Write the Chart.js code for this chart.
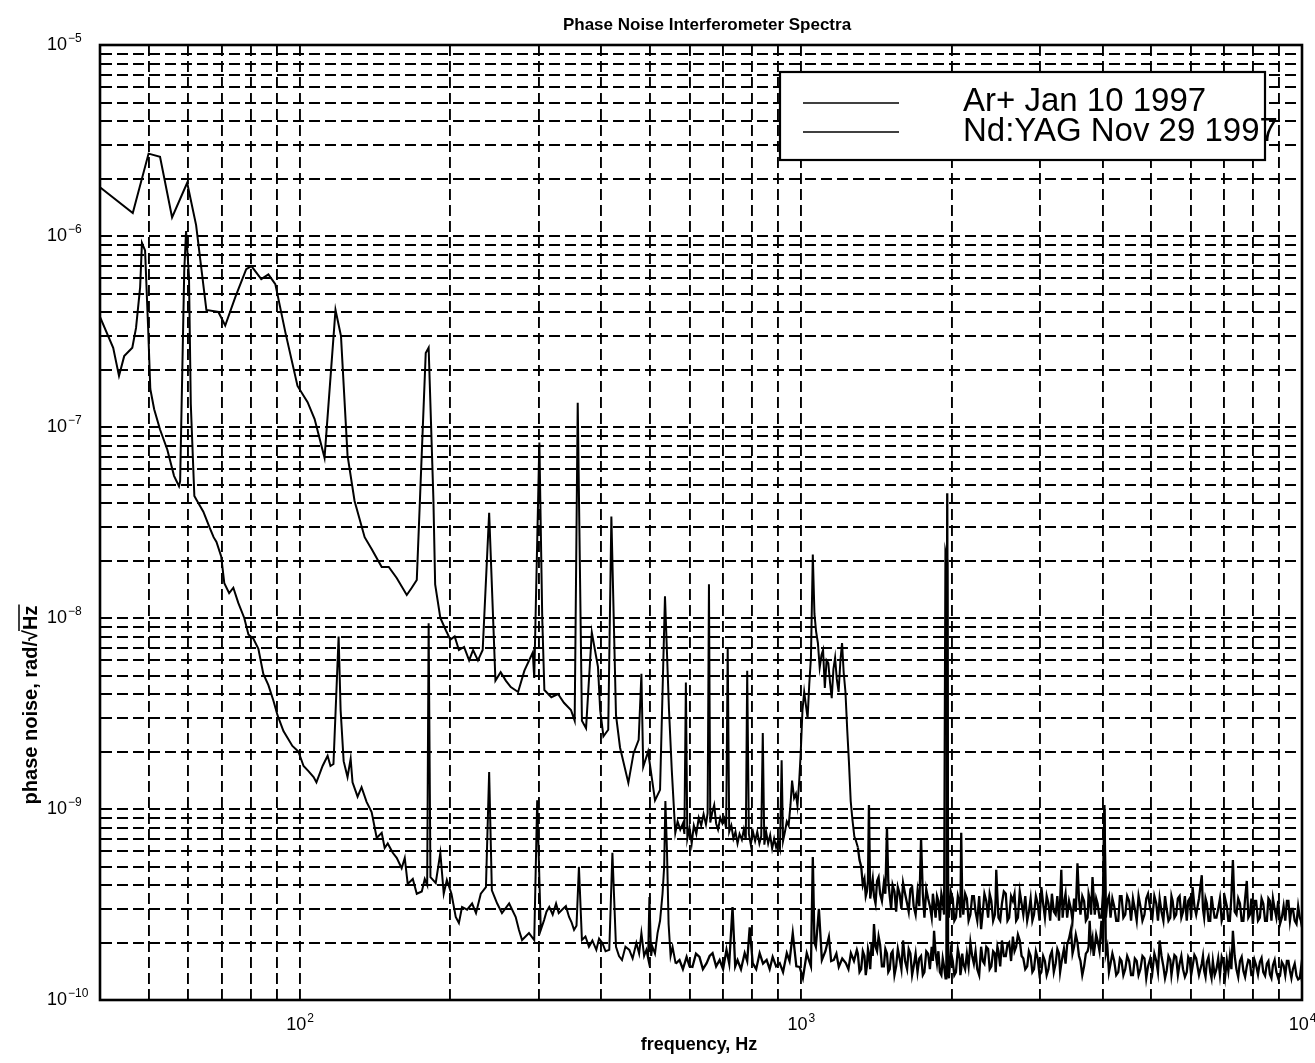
<!DOCTYPE html>
<html>
<head>
<meta charset="utf-8">
<title>Phase Noise Interferometer Spectra</title>
<script src="https://cdn.jsdelivr.net/npm/chart.js@4.4.1/dist/chart.umd.min.js"></script>
<style>
  html, body { margin: 0; padding: 0; background: #fff; }
  canvas { display: block; }
</style>
</head>
<body>
<canvas id="spectra" width="1315" height="1063"></canvas>
<script>
// grid / tick positions
var xGridHz = [40, 50, 60, 70, 80, 90, 100, 200, 300, 400, 500, 600, 700, 800, 900,
  1000, 2000, 3000, 4000, 5000, 6000, 7000, 8000, 9000, 10000];
var yGridVals = [1e-10, 2e-10, 3e-10, 4e-10, 5e-10, 6e-10, 7e-10, 8e-10, 9e-10,
  1e-9, 2e-9, 3e-9, 4e-9, 5e-9, 6e-9, 7e-9, 8e-9, 9e-9,
  1e-8, 2e-8, 3e-8, 4e-8, 5e-8, 6e-8, 7e-8, 8e-8, 9e-8,
  1e-7, 2e-7, 3e-7, 4e-7, 5e-7, 6e-7, 7e-7, 8e-7, 9e-7,
  1e-6, 2e-6, 3e-6, 4e-6, 5e-6, 6e-6, 7e-6, 8e-6, 9e-6, 1e-5];
var xLabelVals = [100, 1000, 10000];
var xLabelExps = ['2', '3', '4'];
var yLabelVals = [1e-10, 1e-9, 1e-8, 1e-7, 1e-6, 1e-5];
var yLabelExps = ['\u221210', '\u22129', '\u22128', '\u22127', '\u22126', '\u22125'];
var legendLabels = ['Ar+ Jan 10 1997', 'Nd:YAG Nov 29 1997'];

// Ar+ spectrum, 40 Hz .. 1.3 kHz  [Hz, rad/rtHz]
var arLowPts = [
  [40, 1.8e-6], [46.5, 1.32e-6], [50, 2.7e-6], [52.7, 2.6e-6], [55.7, 1.25e-6], [59.7, 1.9e-6],
  [62.2, 1.14e-6], [65.2, 4.1e-7], [68.9, 4.0e-7], [71.1, 3.4e-7], [74.5, 4.8e-7], [78.3, 6.7e-7],
  [80.2, 6.95e-7], [83.9, 5.95e-7], [86.7, 6.3e-7], [89.5, 5.6e-7], [93.8, 3.1e-7], [99.1, 1.64e-7],
  [103.8, 1.35e-7], [107.2, 1.1e-7], [112.2, 6.9e-8], [118, 4.1e-7], [121, 3.0e-7], [124.7, 7.1e-8],
  [128.8, 4.1e-8], [134.9, 2.65e-8], [139.3, 2.3e-8], [145.9, 1.85e-8], [150.7, 1.85e-8], [156.3, 1.62e-8],
  [163.7, 1.32e-8], [167.5, 1.44e-8], [171.4, 1.58e-8], [178.6, 2.44e-7], [181, 2.6e-7], [185, 4.2e-8],
  [186.5, 1.5e-8], [191, 1.0e-8], [196, 8.6e-9], [200, 7.7e-9], [204, 8.0e-9], [208, 6.8e-9],
  [213, 7.05e-9], [218, 6.0e-9], [222, 6.8e-9], [227, 6.0e-9], [232, 6.8e-9], [239, 3.55e-8],
  [246, 4.7e-9], [252, 5.2e-9], [258, 4.7e-9], [264, 4.35e-9], [273, 4.1e-9], [281, 5.3e-9],
  [292, 6.6e-9], [294, 4.85e-9], [301, 8.3e-8], [305, 1.0e-8], [308, 4.2e-9], [318, 3.85e-9],
  [328, 4.0e-9], [337, 3.6e-9], [348, 3.3e-9], [354, 2.9e-9], [359, 1.34e-7], [366, 2.9e-9],
  [373, 2.65e-9], [383, 8.4e-9], [394, 5.55e-9], [398, 3.3e-9], [404, 2.4e-9], [413, 2.6e-9],
  [419, 3.4e-8], [428, 3.1e-9], [436, 2.1e-9], [453, 1.37e-9], [464, 1.96e-9], [475, 2.3e-9],
  [481, 5.1e-9], [485, 1.66e-9], [496, 2.0e-9], [512, 1.11e-9], [524, 1.26e-9], [536, 1.3e-8],
  [546, 3.3e-9], [553, 1.6e-9], [562, 7.5e-10], [568, 8.6e-10], [575, 7.8e-10], [582, 8.4e-10],
  [586, 7.4e-10], [590, 4.6e-9], [594, 7.0e-10], [600, 8.0e-10], [606, 6.6e-10], [612, 8.2e-10],
  [619, 7.4e-10], [626, 9.0e-10], [633, 8.2e-10], [640, 9.4e-10], [647, 8.3e-10], [652, 9.5e-10],
  [656, 1.5e-8], [660, 8.5e-10], [666, 9.6e-10], [672, 1.05e-9], [678, 8.4e-10], [684, 7.8e-10],
  [691, 9.0e-10], [698, 8.4e-10], [704, 8.9e-10], [710, 7.9e-10], [715, 7.0e-9], [720, 7.6e-10],
  [727, 8.2e-10], [734, 7.0e-10], [741, 7.6e-10], [748, 6.6e-10], [755, 7.4e-10], [763, 6.9e-10],
  [770, 7.8e-10], [777, 6.9e-10], [782, 5.3e-9], [788, 7.4e-10], [795, 6.5e-10], [803, 7.6e-10],
  [811, 6.8e-10], [819, 7.6e-10], [827, 6.6e-10], [834, 7.2e-10], [840, 2.5e-9], [846, 6.5e-10],
  [853, 7.6e-10], [861, 6.6e-10], [869, 7.3e-10], [877, 6.2e-10], [885, 7.0e-10], [893, 6.3e-10],
  [901, 6.8e-10], [909, 6.2e-10], [916, 1.8e-9], [922, 6.8e-10], [930, 7.6e-10], [938, 8.6e-10],
  [946, 8.2e-10], [954, 1.05e-9], [961, 1.41e-9], [970, 1.14e-9], [978, 1.2e-9], [985, 1.04e-9],
  [993, 1.4e-9], [1000, 1.98e-9], [1008, 3.3e-9], [1016, 4.1e-9], [1024, 3.5e-9], [1032, 3.0e-9],
  [1040, 4.5e-9], [1048, 6.2e-9], [1057, 2.15e-8], [1065, 1.05e-8], [1073, 8.5e-9], [1082, 7.4e-9],
  [1091, 5.5e-9], [1100, 6.4e-9], [1108, 6.8e-9], [1117, 4.3e-9], [1126, 6.0e-9], [1135, 5.8e-9],
  [1144, 4.6e-9], [1153, 3.8e-9], [1162, 5.4e-9], [1171, 6.2e-9], [1180, 4.8e-9], [1190, 4.1e-9],
  [1200, 6.0e-9], [1209, 7.4e-9], [1218, 5.2e-9], [1228, 4.1e-9], [1238, 2.6e-9], [1248, 1.75e-9],
  [1258, 1.1e-9], [1268, 8.8e-10], [1279, 7.2e-10], [1289, 6.8e-10]
];

// Nd:YAG spectrum, 40 Hz .. 1.3 kHz
var ndLowPts = [
  [40, 3.77e-7], [42.5, 2.6e-7], [43.65, 1.85e-7], [44.7, 2.35e-7], [46.4, 2.6e-7], [47.2, 3.3e-7],
  [48.1, 5.4e-7], [48.5, 9.2e-7], [49.2, 8.4e-7], [49.9, 3.3e-7], [50.4, 1.58e-7], [51.3, 1.24e-7],
  [52.7, 9.7e-8], [54.5, 7.6e-8], [56.2, 5.55e-8], [57.5, 4.9e-8], [57.8, 5.2e-8], [58.9, 6.56e-7],
  [59.4, 1.06e-6], [60.2, 6.1e-7], [60.7, 1.32e-7], [61.7, 4.35e-8], [62.5, 4.1e-8], [64.3, 3.6e-8],
  [66.1, 3.0e-8], [67.4, 2.65e-8], [68.3, 2.5e-8], [69.8, 2.1e-8], [70.8, 1.52e-8], [72.4, 1.35e-8],
  [73.8, 1.44e-8], [75.5, 1.2e-8], [77.6, 1.0e-8], [79.1, 8.2e-9], [80.9, 7.8e-9], [82.8, 6.9e-9],
  [84.7, 5.1e-9], [86.7, 4.45e-9], [88.7, 3.7e-9], [90.4, 3.1e-9], [92.9, 2.56e-9], [96.8, 2.14e-9],
  [99.5, 2.0e-9], [101.9, 1.68e-9], [104.2, 1.58e-9], [106.7, 1.47e-9], [108.1, 1.38e-9], [111.2, 1.68e-9],
  [113.8, 1.9e-9], [115.3, 1.68e-9], [116.9, 1.72e-9], [119.7, 8.0e-9], [120.8, 3.3e-9], [122.5, 1.78e-9],
  [124.7, 1.47e-9], [126.5, 1.83e-9], [127.6, 1.38e-9], [130.6, 1.16e-9], [133, 1.3e-9], [136.1, 1.09e-9],
  [139.3, 9.65e-10], [142.6, 7.05e-10], [145.9, 7.5e-10], [147.9, 6.25e-10], [150, 6.6e-10], [153.5, 5.9e-10],
  [156.3, 5.55e-10], [159.9, 4.9e-10], [162.2, 5.55e-10], [164.4, 4.05e-10], [168.3, 4.3e-10], [171.4, 3.6e-10],
  [175.4, 3.7e-10], [177.8, 4.3e-10], [179.8, 4.0e-10], [181, 9.4e-9], [182.5, 4.4e-10], [187, 4.1e-10],
  [191, 5.9e-10], [194, 3.6e-10], [196.8, 4.25e-10], [201, 3.6e-10], [205, 2.72e-10], [208, 2.53e-10],
  [211, 3.07e-10], [216, 2.97e-10], [221, 3.2e-10], [225, 2.85e-10], [230, 3.6e-10], [235.5, 3.9e-10],
  [239, 1.56e-9], [242, 3.75e-10], [248, 3.2e-10], [253.5, 2.85e-10], [262, 3.2e-10], [270, 2.72e-10],
  [274, 2.33e-10], [278, 2.06e-10], [287, 2.24e-10], [294, 2.06e-10], [298, 1.11e-9], [303, 2.33e-10],
  [307.6, 2.62e-10], [311, 2.9e-10], [315, 3.07e-10], [320, 2.8e-10], [325, 3.2e-10], [329, 2.85e-10],
  [334, 2.97e-10], [340, 3.1e-10], [345, 2.72e-10], [349, 2.55e-10], [353, 2.33e-10], [357, 2.45e-10],
  [361, 4.98e-10], [366, 2.06e-10], [372, 2.15e-10], [378, 1.9e-10], [384, 2.05e-10], [391, 1.83e-10],
  [396, 2.1e-10], [402, 1.99e-10], [408, 1.8e-10], [415, 1.83e-10], [421, 5.9e-10], [428, 1.9e-10],
  [434, 1.7e-10], [440, 1.62e-10], [447, 1.9e-10], [455, 1.83e-10], [462, 1.65e-10], [470, 1.99e-10],
  [476, 1.75e-10], [481, 2.24e-10], [487, 1.7e-10], [492, 1.83e-10], [496, 1.65e-10], [499, 3.46e-10],
  [503, 1.7e-10], [506, 1.9e-10], [512, 1.75e-10], [518, 2.24e-10], [524, 2.6e-10], [530, 3.6e-10],
  [534, 5.0e-10], [537, 1.1e-9], [541, 6.0e-10], [545, 2.5e-10], [550, 1.7e-10], [555, 1.9e-10],
  [563, 1.55e-10], [573, 1.62e-10], [582, 1.45e-10], [592, 1.68e-10], [600, 1.5e-10], [608, 1.49e-10],
  [618, 1.75e-10], [628, 1.68e-10], [638, 1.45e-10], [649, 1.56e-10], [658, 1.7e-10], [667, 1.76e-10],
  [678, 1.5e-10], [689, 1.62e-10], [700, 1.45e-10], [711, 1.83e-10], [720, 1.55e-10], [731, 3.07e-10],
  [740, 1.5e-10], [748, 1.62e-10], [760, 1.45e-10], [773, 1.76e-10], [782, 1.6e-10], [791, 2.4e-10],
  [802, 1.56e-10], [815, 1.45e-10], [828, 1.76e-10], [841, 1.55e-10], [855, 1.62e-10], [867, 1.45e-10],
  [879, 1.68e-10], [893, 1.5e-10], [908, 1.56e-10], [922, 1.4e-10], [938, 1.76e-10], [950, 1.6e-10],
  [964, 2.24e-10], [980, 1.5e-10], [995, 1.49e-10], [1010, 1.3e-10], [1028, 1.76e-10], [1038, 1.62e-10],
  [1048, 1.5e-10], [1057, 5.6e-10], [1065, 2.0e-10], [1072, 1.9e-10], [1087, 3.0e-10], [1102, 1.62e-10],
  [1120, 1.8e-10], [1138, 2.14e-10], [1150, 1.6e-10], [1164, 1.62e-10], [1178, 1.75e-10], [1191, 1.49e-10],
  [1210, 1.65e-10], [1230, 1.56e-10], [1245, 1.45e-10], [1259, 1.76e-10], [1277, 1.6e-10], [1294, 1.83e-10]
];

// common frequency list for the noise floor, 1.3 .. 10 kHz
var hfHz = [1300, 1320, 1340, 1355, 1368, 1385, 1400, 1420, 1440, 1465,
  1486, 1505, 1525, 1550, 1575, 1600, 1630, 1655, 1680, 1710,
  1738, 1765, 1795, 1825, 1845, 1870, 1895, 1920, 1945, 1960,
  1975, 2010, 2040, 2075, 2090, 2110, 2145, 2180, 2215, 2250,
  2290, 2325, 2365, 2400, 2440, 2455, 2480, 2520, 2565, 2605,
  2650, 2690, 2735, 2780, 2830, 2875, 2920, 2970, 3020, 3070,
  3120, 3170, 3225, 3275, 3310, 3350, 3400, 3460, 3510, 3565,
  3615, 3675, 3735, 3770, 3820, 3860, 3910, 3980, 4035, 4090,
  4150, 4220, 4300, 4365, 4440, 4520, 4600, 4680, 4760, 4850,
  4930, 5030, 5120, 5200, 5290, 5370, 5460, 5520, 5610, 5700,
  5790, 5890, 5970, 6050, 6150, 6310, 6380, 6460, 6560, 6640,
  6750, 6860, 6970, 7080, 7180, 7280, 7400, 7520, 7640, 7760,
  7870, 7980, 8100, 8240, 8370, 8510, 8630, 8750, 8890, 9040,
  9190, 9330, 9460, 9590, 9750, 9900, 10000];

var arHf = [6.3e-10, 5.0e-10, 4.3e-10, 3.7e-10, 1.05e-9, 3.9e-10, 3.5e-10, 4.2e-10, 3.6e-10, 4.1e-10,
  8.0e-10, 3.5e-10, 4.0e-10, 2.9e-10, 3.6e-10, 4.1e-10, 3.2e-10, 3.8e-10, 3.1e-10, 3.7e-10,
  7.0e-10, 2.7e-10, 3.4e-10, 2.7e-10, 3.2e-10, 3.5e-10, 2.6e-10, 3.3e-10, 2.2e-8, 2.0e-8,
  2.7e-10, 3.4e-10, 2.7e-10, 3.2e-10, 7.5e-10, 2.8e-10, 3.4e-10, 2.8e-10, 3.5e-10, 2.6e-10,
  2.35e-10, 3.6e-10, 2.7e-10, 3.3e-10, 2.8e-10, 4.8e-10, 2.7e-10, 3.2e-10, 3.6e-10, 2.7e-10,
  3.3e-10, 2.6e-10, 3.7e-10, 2.8e-10, 2.6e-10, 3.4e-10, 2.8e-10, 3.2e-10, 3.9e-10, 2.7e-10,
  3.2e-10, 3.6e-10, 2.8e-10, 2.6e-10, 4.8e-10, 3.2e-10, 2.7e-10, 3.0e-10, 3.4e-10, 5.2e-10,
  2.8e-10, 3.3e-10, 2.7e-10, 3.4e-10, 4.4e-10, 2.8e-10, 3.2e-10, 2.7e-10, 1.05e-9, 3.3e-10,
  2.7e-10, 3.1e-10, 2.6e-10, 3.5e-10, 2.8e-10, 3.3e-10, 3.4e-10, 2.6e-10, 3.1e-10, 2.8e-10,
  3.6e-10, 2.7e-10, 3.2e-10, 3.4e-10, 2.6e-10, 3.0e-10, 2.7e-10, 3.3e-10, 2.8e-10, 3.5e-10,
  2.9e-10, 2.6e-10, 3.4e-10, 3.9e-10, 2.8e-10, 4.5e-10, 2.7e-10, 3.2e-10, 2.6e-10, 3.1e-10,
  2.7e-10, 3.4e-10, 2.8e-10, 3.1e-10, 2.6e-10, 5.4e-10, 2.8e-10, 3.2e-10, 2.6e-10, 4.2e-10,
  2.8e-10, 2.5e-10, 3.3e-10, 2.7e-10, 3.2e-10, 2.6e-10, 3.3e-10, 3.4e-10, 2.7e-10, 2.5e-10,
  3.1e-10, 3.3e-10, 2.6e-10, 3.0e-10, 2.5e-10, 2.7e-10, 2.4e-10];

var ndHf = [1.75e-10, 1.45e-10, 1.7e-10, 1.5e-10, 1.75e-10, 2.0e-10, 2.5e-10, 1.8e-10, 1.95e-10, 1.5e-10,
  1.75e-10, 1.45e-10, 1.8e-10, 1.5e-10, 1.65e-10, 2.05e-10, 1.45e-10, 1.75e-10, 1.5e-10, 1.4e-10,
  1.7e-10, 1.4e-10, 1.75e-10, 1.9e-10, 2.3e-10, 1.55e-10, 1.4e-10, 1.65e-10, 1.3e-10, 4.5e-8,
  1.3e-10, 1.6e-10, 1.4e-10, 1.65e-10, 1.45e-10, 1.55e-10, 1.75e-10, 2.0e-10, 1.55e-10, 1.45e-10,
  1.9e-10, 1.55e-10, 1.85e-10, 1.5e-10, 1.75e-10, 1.6e-10, 1.8e-10, 2.05e-10, 1.7e-10, 2.0e-10,
  2.15e-10, 1.9e-10, 2.05e-10, 1.65e-10, 1.5e-10, 1.7e-10, 1.45e-10, 1.65e-10, 1.4e-10, 1.6e-10,
  1.45e-10, 1.8e-10, 1.55e-10, 1.75e-10, 1.55e-10, 1.85e-10, 1.95e-10, 2.35e-10, 1.9e-10, 2.0e-10,
  1.6e-10, 1.5e-10, 1.8e-10, 2.6e-10, 2.1e-10, 1.9e-10, 2.05e-10, 2.6e-10, 1.0e-9, 1.9e-10,
  1.55e-10, 1.6e-10, 1.4e-10, 1.6e-10, 1.45e-10, 1.6e-10, 1.35e-10, 1.6e-10, 1.45e-10, 1.65e-10,
  1.5e-10, 1.4e-10, 1.6e-10, 2.05e-10, 1.5e-10, 1.42e-10, 1.62e-10, 1.5e-10, 1.68e-10, 1.55e-10,
  1.45e-10, 1.4e-10, 1.62e-10, 1.5e-10, 1.65e-10, 1.55e-10, 1.42e-10, 1.58e-10, 1.4e-10, 1.6e-10,
  1.45e-10, 1.35e-10, 1.58e-10, 1.62e-10, 1.7e-10, 2.3e-10, 1.45e-10, 1.6e-10, 1.42e-10, 1.5e-10,
  1.6e-10, 1.35e-10, 1.52e-10, 1.58e-10, 1.4e-10, 1.55e-10, 1.36e-10, 1.52e-10, 1.4e-10, 1.34e-10,
  1.52e-10, 1.6e-10, 1.42e-10, 1.45e-10, 1.34e-10, 1.3e-10, 1.25e-10];

// in-between noise samples, 1.3 .. 10 kHz
var hfMidHz = [1310, 1330, 1348, 1362, 1376, 1392, 1410, 1430, 1452, 1475,
  1495, 1515, 1538, 1562, 1588, 1615, 1642, 1668, 1695, 1724,
  1752, 1780, 1810, 1835, 1858, 1882, 1908, 1932, 1952, 1968,
  1992, 2025, 2058, 2082, 2100, 2128, 2162, 2198, 2232, 2270,
  2308, 2345, 2382, 2420, 2448, 2468, 2500, 2542, 2585, 2628,
  2670, 2712, 2758, 2805, 2852, 2898, 2945, 2995, 3045, 3095,
  3145, 3198, 3250, 3292, 3330, 3375, 3430, 3485, 3538, 3590,
  3645, 3705, 3752, 3795, 3840, 3885, 3945, 4008, 4062, 4120,
  4185, 4260, 4332, 4402, 4480, 4560, 4640, 4720, 4805, 4890,
  4980, 5075, 5160, 5245, 5330, 5415, 5490, 5565, 5655, 5745,
  5840, 5930, 6010, 6100, 6230, 6345, 6420, 6510, 6600, 6695,
  6805, 6915, 7025, 7130, 7230, 7340, 7460, 7580, 7700, 7815,
  7925, 8040, 8170, 8305, 8440, 8570, 8690, 8820, 8965, 9115,
  9260, 9395, 9525, 9670, 9825, 9950];

var arMid = [5.4e-10, 4.0e-10, 3.5e-10, 4.2e-10, 3.4e-10, 4.3e-10, 3.2e-10, 4.4e-10, 3.3e-10, 3.6e-10,
  4.2e-10, 3.0e-10, 3.7e-10, 3.9e-10, 3.0e-10, 3.6e-10, 2.9e-10, 3.9e-10, 2.8e-10, 3.1e-10,
  3.6e-10, 3.8e-10, 3.1e-10, 3.6e-10, 2.7e-10, 3.3e-10, 3.6e-10, 2.8e-10, 2.1e-8, 3.3e-10,
  3.7e-10, 2.6e-10, 3.5e-10, 2.7e-10, 3.3e-10, 3.6e-10, 2.6e-10, 3.5e-10, 2.9e-10, 3.5e-10,
  2.9e-10, 3.3e-10, 3.6e-10, 2.6e-10, 3.4e-10, 3.5e-10, 2.6e-10, 3.7e-10, 2.6e-10, 3.5e-10,
  3.6e-10, 2.7e-10, 3.2e-10, 3.5e-10, 2.9e-10, 2.6e-10, 3.5e-10, 2.6e-10, 3.2e-10, 3.5e-10,
  2.6e-10, 2.9e-10, 3.5e-10, 3.3e-10, 2.7e-10, 3.6e-10, 3.3e-10, 2.6e-10, 2.9e-10, 3.4e-10,
  3.5e-10, 2.6e-10, 3.6e-10, 2.8e-10, 3.5e-10, 3.4e-10, 2.7e-10, 3.6e-10, 2.7e-10, 3.5e-10,
  3.4e-10, 2.6e-10, 3.5e-10, 2.7e-10, 3.5e-10, 2.6e-10, 3.0e-10, 3.5e-10, 2.6e-10, 3.4e-10,
  3.0e-10, 3.5e-10, 2.6e-10, 2.9e-10, 3.5e-10, 2.6e-10, 3.5e-10, 2.7e-10, 3.4e-10, 2.7e-10,
  3.5e-10, 3.3e-10, 2.7e-10, 3.1e-10, 3.4e-10, 3.0e-10, 3.4e-10, 2.6e-10, 3.5e-10, 2.7e-10,
  3.0e-10, 2.6e-10, 3.4e-10, 2.6e-10, 3.5e-10, 2.9e-10, 3.4e-10, 2.6e-10, 3.4e-10, 2.7e-10,
  3.4e-10, 3.3e-10, 2.6e-10, 3.4e-10, 2.6e-10, 3.4e-10, 2.6e-10, 3.0e-10, 3.3e-10, 2.7e-10,
  2.6e-10, 3.3e-10, 3.0e-10, 2.6e-10, 3.1e-10, 2.6e-10];

var ndMid = [1.4e-10, 1.8e-10, 1.35e-10, 1.85e-10, 1.45e-10, 1.7e-10, 1.9e-10, 2.15e-10, 1.5e-10, 1.85e-10,
  1.4e-10, 1.75e-10, 1.35e-10, 1.85e-10, 1.45e-10, 1.6e-10, 1.85e-10, 1.35e-10, 1.75e-10, 1.65e-10,
  1.35e-10, 1.8e-10, 1.45e-10, 1.6e-10, 1.75e-10, 1.8e-10, 1.35e-10, 1.5e-10, 1.3e-10, 1.4e-10,
  1.8e-10, 1.35e-10, 1.85e-10, 1.35e-10, 1.75e-10, 1.45e-10, 1.5e-10, 1.7e-10, 1.8e-10, 1.35e-10,
  1.6e-10, 1.9e-10, 1.45e-10, 1.8e-10, 1.4e-10, 1.9e-10, 1.5e-10, 1.7e-10, 1.95e-10, 1.6e-10,
  1.8e-10, 2.2e-10, 1.7e-10, 1.45e-10, 1.8e-10, 1.4e-10, 1.8e-10, 1.35e-10, 1.7e-10, 1.35e-10,
  1.7e-10, 1.4e-10, 1.85e-10, 1.4e-10, 1.7e-10, 1.55e-10, 2.1e-10, 1.75e-10, 2.2e-10, 1.7e-10,
  1.35e-10, 1.75e-10, 1.9e-10, 1.9e-10, 1.7e-10, 2.2e-10, 1.8e-10, 2.0e-10, 1.75e-10, 1.4e-10,
  1.75e-10, 1.35e-10, 1.65e-10, 1.35e-10, 1.7e-10, 1.35e-10, 1.65e-10, 1.35e-10, 1.7e-10, 1.3e-10,
  1.65e-10, 1.75e-10, 1.4e-10, 1.7e-10, 1.3e-10, 1.7e-10, 1.35e-10, 1.72e-10, 1.35e-10, 1.7e-10,
  1.32e-10, 1.68e-10, 1.35e-10, 1.72e-10, 1.35e-10, 1.7e-10, 1.32e-10, 1.68e-10, 1.3e-10, 1.35e-10,
  1.65e-10, 1.68e-10, 1.32e-10, 1.42e-10, 1.45e-10, 1.7e-10, 1.32e-10, 1.68e-10, 1.32e-10, 1.62e-10,
  1.35e-10, 1.62e-10, 1.36e-10, 1.66e-10, 1.34e-10, 1.6e-10, 1.3e-10, 1.62e-10, 1.3e-10, 1.58e-10,
  1.35e-10, 1.6e-10, 1.3e-10, 1.55e-10, 1.28e-10, 1.45e-10];

var FONT = '"Liberation Sans", Arial, Helvetica, sans-serif';

function toXY(pts, hz, vals, midHz, midVals) {
  var out = pts.map(function (p) { return {x: p[0], y: p[1]}; });
  hz.forEach(function (f, i) { out.push({x: f, y: vals[i]}); });
  midHz.forEach(function (f, i) { out.push({x: f, y: midVals[i]}); });
  return out.sort(function (p, q) { return p.x - q.x; });
}

// heavier stroke where the spectrum turns into a dense noise floor
function noiseWidth(fromHz) {
  return function (ctx) { return ctx.p0.parsed.x >= fromHz ? 2.3 : 2; };
}

// "10" with a raised exponent; mode 'x' centres the pair, mode 'y' puts the right edge of "10" at px
function powerLabel(ctx, px, py, exp, mode) {
  ctx.font = '18px ' + FONT;
  var wb = ctx.measureText('10').width;
  ctx.font = '12px ' + FONT;
  var we = ctx.measureText(exp).width;
  var left = mode === 'x' ? px - (wb + we) / 2 : px - wb;
  ctx.textAlign = 'left';
  ctx.textBaseline = 'middle';
  ctx.font = '18px ' + FONT;
  ctx.fillText('10', left, py);
  ctx.textBaseline = 'alphabetic';
  ctx.font = '12px ' + FONT;
  ctx.fillText(exp, left + wb + 1, py - 3);
}

var decorations = {
  id: 'decorations',
  afterDraw: function (chart) {
    var ctx = chart.ctx, a = chart.chartArea;
    var xs = chart.scales.x, ys = chart.scales.y;
    ctx.save();
    ctx.fillStyle = '#000';
    ctx.strokeStyle = '#000';

    // axes box
    ctx.lineWidth = 2.6;
    ctx.strokeRect(a.left, a.top, a.right - a.left, a.bottom - a.top);

    // tick labels
    yLabelVals.forEach(function (v, i) {
      powerLabel(ctx, a.left - 33, ys.getPixelForValue(v), yLabelExps[i], 'y');
    });
    xLabelVals.forEach(function (v, i) {
      powerLabel(ctx, xs.getPixelForValue(v), a.bottom + 25, xLabelExps[i], 'x');
    });

    // title and x label
    ctx.textAlign = 'center';
    ctx.textBaseline = 'middle';
    ctx.font = 'bold 17px ' + FONT;
    ctx.fillText('Phase Noise Interferometer Spectra', 707, 25);
    ctx.font = 'bold 18px ' + FONT;
    ctx.fillText('frequency, Hz', 699, 1045);

    // y label with the radical bar over Hz
    ctx.save();
    ctx.translate(30, 705);
    ctx.rotate(-Math.PI / 2);
    ctx.font = 'bold 20px ' + FONT;
    var head = 'phase noise, rad/\u221A', tail = 'Hz';
    var wh = ctx.measureText(head).width, wt = ctx.measureText(tail).width;
    var x0 = -(wh + wt) / 2;
    ctx.textAlign = 'left';
    ctx.textBaseline = 'alphabetic';
    ctx.fillText(head + tail, x0, 7);
    ctx.lineWidth = 1.5;
    ctx.beginPath();
    ctx.moveTo(x0 + wh - 1, -11);
    ctx.lineTo(x0 + wh + wt + 1, -11);
    ctx.stroke();
    ctx.restore();

    // legend
    ctx.fillStyle = '#fff';
    ctx.fillRect(780, 72, 485, 88);
    ctx.lineWidth = 2.2;
    ctx.strokeRect(780, 72, 485, 88);
    ctx.fillStyle = '#000';
    ctx.lineWidth = 1.5;
    [103, 132].forEach(function (ly) {
      ctx.beginPath();
      ctx.moveTo(803, ly);
      ctx.lineTo(899, ly);
      ctx.stroke();
    });
    ctx.font = '33px ' + FONT;
    ctx.textAlign = 'left';
    ctx.textBaseline = 'alphabetic';
    ctx.fillText(legendLabels[0], 963, 111);
    ctx.fillText(legendLabels[1], 963, 141);
    ctx.restore();
  }
};

function logAxis(min, max, grid) {
  return {
    type: 'logarithmic',
    min: min,
    max: max,
    afterBuildTicks: function (scale) {
      scale.ticks = grid.map(function (v) { return {value: v}; });
    },
    ticks: { display: false },
    grid: { color: '#000', lineWidth: 1.9, drawTicks: false },
    border: { display: true, color: '#000', width: 2, dash: [11, 5] }
  };
}

new Chart(document.getElementById('spectra'), {
  type: 'line',
  data: {
    datasets: [
      { label: legendLabels[0], data: toXY(arLowPts, hfHz, arHf, hfMidHz, arMid),
        borderColor: '#000', borderWidth: 2, pointRadius: 0, tension: 0, fill: false,
        segment: { borderWidth: noiseWidth(1300) } },
      { label: legendLabels[1], data: toXY(ndLowPts, hfHz, ndHf, hfMidHz, ndMid),
        borderColor: '#000', borderWidth: 2, pointRadius: 0, tension: 0, fill: false,
        segment: { borderWidth: noiseWidth(560) } }
    ]
  },
  options: {
    responsive: false,
    animation: false,
    devicePixelRatio: 1,
    layout: { padding: { left: 100, top: 45, right: 13, bottom: 63 } },
    plugins: { legend: { display: false }, title: { display: false }, tooltip: { enabled: false } },
    scales: {
      x: logAxis(40, 10000, xGridHz),
      y: logAxis(1e-10, 1e-5, yGridVals)
    }
  },
  plugins: [decorations]
});
</script>
</body>
</html>
